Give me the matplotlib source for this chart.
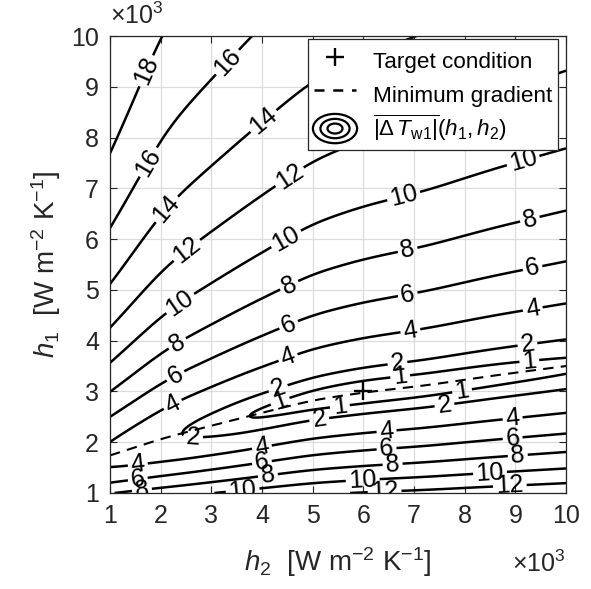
import numpy as np
import matplotlib
matplotlib.use("Agg")
import matplotlib.pyplot as plt
from matplotlib.patches import Ellipse
from matplotlib.lines import Line2D
from matplotlib.legend_handler import HandlerBase
from matplotlib.ticker import FuncFormatter

plt.rcParams['font.family'] = ['Liberation Sans', 'DejaVu Sans']
plt.rcParams['mathtext.fontset'] = 'custom'
plt.rcParams['mathtext.rm'] = 'Liberation Sans'
plt.rcParams['mathtext.it'] = 'Liberation Sans:italic'
plt.rcParams['mathtext.bf'] = 'Liberation Sans:bold'

# ---- data (units: W m^-2 K^-1) ----
levels = [1, 2, 4, 6, 8, 10, 12, 14, 16, 18]
# minimum-gradient (valley) line
valley_h2 = [1000, 2080, 4000, 5000, 6000, 7250, 8550, 10000]
valley_h1 = [1740, 2090, 2580, 2830, 2980, 3120, 3310, 3500]
# valley floor value of |dT| along h2
floor_h2 = [1000, 2400, 3700, 6000, 10000]
floor_dT = [3.5, 2.0, 1.0, 0.1, 0.8]
# growth factor of |dT| along h2
gain_h2 = [1000, 2000, 10000]
gain = [1.04, 1.0, 1.0]
# growth of |dT| with log-distance d from the valley (above / below)
k_up = [13.2, -0.6, -0.4]     # F = d*(a + b d + c d^2)
k_down = [13.5, -2.2]         # F = |d|*(a + b |d|)
target_h2 = [6000]
target_h1 = [3000]

# ---- field ----
n = 600
h2 = np.linspace(1000, 10000, n)
h1 = np.linspace(1000, 10000, n)


def smooth(y, sigma_pts):
    k = np.arange(-3 * sigma_pts, 3 * sigma_pts + 1)
    w = np.exp(-0.5 * (k / sigma_pts) ** 2)
    w /= w.sum()
    yp = np.pad(y, len(k) // 2, mode='reflect', reflect_type='odd')
    return np.convolve(yp, w, mode='valid')


h1c_1d = smooth(np.interp(h2, valley_h2, valley_h1), 20)
m_1d = smooth(np.interp(h2, floor_h2, floor_dT), 15)
g_1d = smooth(np.interp(h2, gain_h2, gain), 25)
H2, H1 = np.meshgrid(h2, h1)
h1c = np.broadcast_to(h1c_1d, H2.shape)
m = np.broadcast_to(m_1d, H2.shape)
g = np.broadcast_to(g_1d, H2.shape)
d = np.log(H1 / h1c)
ad = np.abs(d)
F_up = ad * (k_up[0] + k_up[1] * ad + k_up[2] * ad**2)
F_dn = ad * (k_down[0] + k_down[1] * ad)
F = g * np.where(d >= 0, F_up, F_dn)
Z = np.sqrt(F**2 + m**2)

fig = plt.figure(figsize=(5.91, 5.89), dpi=100)
ax = fig.add_axes([110/591, 1 - 493/589, 456/591, 457/589])

cs = ax.contour(H2, H1, Z, levels=levels, colors='k', linewidths=1.8)

label_pos = [
    (1.59, 9.37), (3.27, 9.53), (1.75, 7.52), (3.96, 8.41), (2.14, 6.57),
    (4.55, 7.22), (2.54, 5.75), (4.49, 5.98), (6.78, 6.91), (9.15, 7.56),
    (2.38, 4.74), (4.55, 5.06), (2.32, 3.96), (6.86, 5.85), (9.28, 6.42),
    (4.51, 4.35), (2.28, 3.33), (6.86, 5.0), (9.34, 5.43),
    (4.51, 3.68), (2.22, 2.78), (6.92, 4.25), (9.34, 4.65),
    (4.31, 3.09), (6.66, 3.66), (9.24, 3.92),
    (4.35, 2.83), (6.72, 3.37), (9.28, 3.56),
    (5.54, 2.68), (7.94, 3.07),
    (2.64, 2.09), (5.14, 2.38), (7.6, 2.74),
    (1.55, 1.55), (4.0, 1.89), (6.46, 2.2), (8.95, 2.44),
    (1.55, 1.26), (4.0, 1.59), (6.46, 1.85), (8.95, 2.05),
    (1.63, 1.06), (4.12, 1.32), (6.58, 1.52), (9.05, 1.71),
    (3.62, 1.02), (5.99, 1.22), (8.5, 1.4),
    (6.42, 1.02), (8.89, 1.16),
]
label_pos = [(x * 1000, y * 1000) for x, y in label_pos]
ax.clabel(cs, inline=True, fontsize=18, fmt='%g', manual=label_pos, inline_spacing=3)

ax.plot(h2, h1c_1d, color='k', linestyle=(0, (5, 3.5)), linewidth=1.5)
ax.plot(target_h2, target_h1, marker='+', color='k', markersize=13, mew=1.7, linestyle='none')

ax.set_xlim(1000, 10000)
ax.set_ylim(1000, 10000)
ticks = np.arange(1000, 10001, 1000)
ax.set_xticks(ticks)
ax.set_yticks(ticks)
fmt = FuncFormatter(lambda v, p: f'{v/1000:g}')
ax.xaxis.set_major_formatter(fmt)
ax.yaxis.set_major_formatter(fmt)
ax.grid(True, color='#dcdcdc', linewidth=0.9)
ax.set_axisbelow(True)
ax.tick_params(direction='in', length=5, width=0.8, colors='#262626', labelsize=18,
               top=True, right=True, pad=8)
for s in ax.spines.values():
    s.set_color('#262626')
    s.set_linewidth(0.9)

ax.set_xlabel(r'$h_2$  [W m$^{-2}$ K$^{-1}$]', fontsize=20, color='#262626', labelpad=12)
ax.set_ylabel(r'$h_1$  [W m$^{-2}$ K$^{-1}$]', fontsize=20, color='#262626', labelpad=6)

ax.text(0.0, 1.015, r'$\times10^3$', transform=ax.transAxes, ha='left', va='bottom',
        fontsize=18, color='#262626')
ax.text(1.0, -0.125, r'$\times10^3$', transform=ax.transAxes, ha='right', va='top',
        fontsize=18, color='#262626')


class ContourHandler(HandlerBase):
    def create_artists(self, legend, orig_handle, xdescent, ydescent, width, height,
                       fontsize, trans):
        cx = width / 2 - xdescent
        cy = height / 2 - ydescent
        arts = []
        for s in [1.0, 0.66, 0.34]:
            e = Ellipse((cx, cy), width * 1.05 * s, height * 0.9 * s, fill=False,
                        edgecolor='k', linewidth=1.6, transform=trans)
            arts.append(e)
        return arts


class ContourProxy:
    pass


h_target = Line2D([], [], marker='+', color='k', markersize=13, mew=1.7, linestyle='none')
h_dash = Line2D([], [], color='k', linestyle=(0, (4, 3.5)), linewidth=1.8)
h_cont = ContourProxy()
leg = ax.legend([h_target, h_dash, h_cont],
                ['Target condition', 'Minimum gradient',
                 r'$\overline{|\Delta\,T_{\rm w1}|}(h_1,h_2)$'],
                handler_map={ContourProxy: ContourHandler()},
                loc='upper right', bbox_to_anchor=(0.982, 0.993), borderaxespad=0,
                fontsize=16.2,
                frameon=True, fancybox=False, framealpha=1, edgecolor='#262626',
                handlelength=1.87, handleheight=1.85, handletextpad=0.75,
                labelspacing=0.05, borderpad=0.25)
leg.get_frame().set_linewidth(0.9)

fig.savefig('out.png', dpi=100)
